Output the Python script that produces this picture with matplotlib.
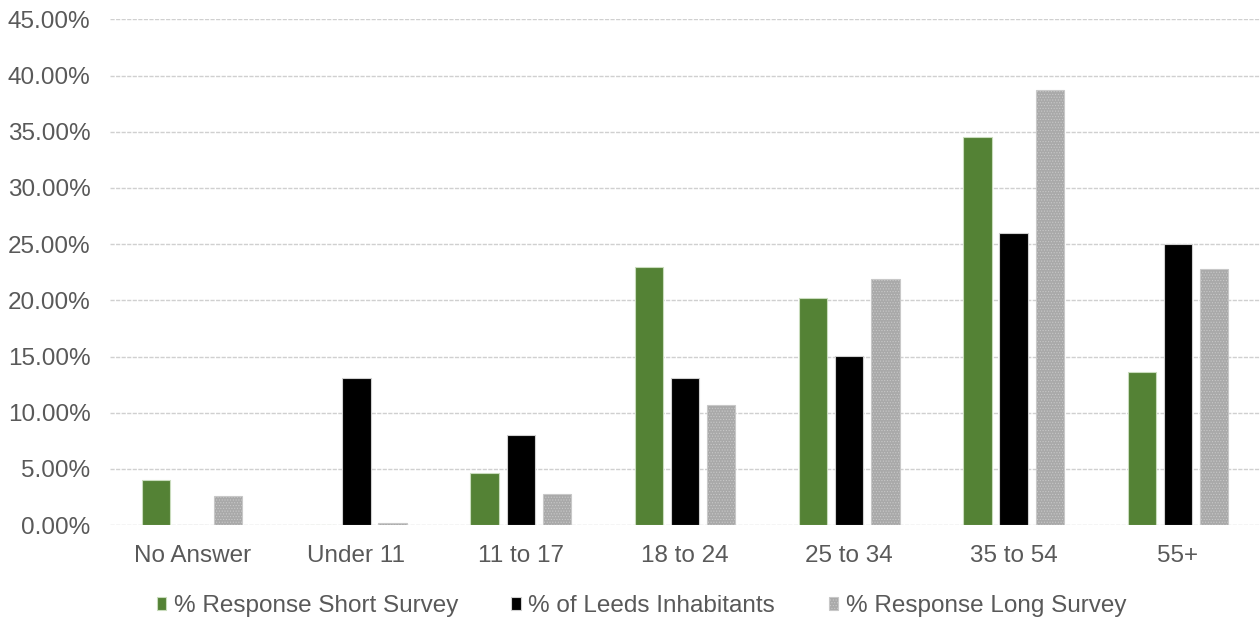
import matplotlib
matplotlib.use("Agg")
import matplotlib.pyplot as plt
import numpy as np
from matplotlib.ticker import FuncFormatter, MultipleLocator

categories = ["No Answer", "Under 11", "11 to 17", "18 to 24", "25 to 34", "35 to 54", "55+"]
short_survey = [0.040, 0.0, 0.046, 0.230, 0.202, 0.345, 0.136]
leeds_inhabitants = [0.0, 0.1305, 0.080, 0.1305, 0.1504, 0.260, 0.250]
long_survey = [0.0258, 0.002, 0.0276, 0.1068, 0.219, 0.387, 0.228]
series_names = ["% Response Short Survey", "% of Leeds Inhabitants", "% Response Long Survey"]

plt.rcParams["font.family"] = ["Liberation Sans", "DejaVu Sans"]
text_color = "#595959"

fig = plt.figure(figsize=(12.6, 6.23), dpi=100)
ax = fig.add_axes([0.0873, 0.157, 0.9127, 0.812])

x = np.arange(len(categories))
w = 0.172
step = 0.22

ax.bar(x - step, short_survey, w, color="#548235", edgecolor="#c9dcbd", linewidth=0.8,
       label=series_names[0], zorder=3)
ax.bar(x, leeds_inhabitants, w, color="#000000", edgecolor="#d0d0d0", linewidth=0.8,
       label=series_names[1], zorder=3)
plt.rcParams["hatch.color"] = "#8c8c8c"
plt.rcParams["hatch.linewidth"] = 0.5
ax.bar(x + step, long_survey, w, color="#a9a9a9", edgecolor="#c8c8c8", linewidth=0.8,
       hatch="......", label=series_names[2], zorder=3)

ax.set_xlim(-0.5, len(categories) - 0.5)
ax.set_ylim(0, 0.45)
ax.yaxis.set_major_locator(MultipleLocator(0.05))
ax.yaxis.set_major_formatter(FuncFormatter(lambda v, p: f"{v*100:.2f}%"))
ax.set_xticks(x)
ax.set_xticklabels(categories)

ax.grid(axis="y", color="#d0d0d0", linestyle=(0, (3, 1)), linewidth=1.0, zorder=0)
for s in ax.spines.values():
    s.set_visible(False)
ax.tick_params(axis="both", length=0, labelsize=17.5, colors=text_color)
ax.tick_params(axis="y", pad=14)
ax.tick_params(axis="x", pad=14)

handles, labels = ax.get_legend_handles_labels()
leg = fig.legend(handles, labels, loc="center", bbox_to_anchor=(0.509, 0.027), ncol=3,
                 frameon=False, fontsize=17.5, handlelength=0.4, handleheight=0.45,
                 handletextpad=0.3, columnspacing=2.2)
for t in leg.get_texts():
    t.set_color(text_color)

fig.savefig("out.png", dpi=100)
